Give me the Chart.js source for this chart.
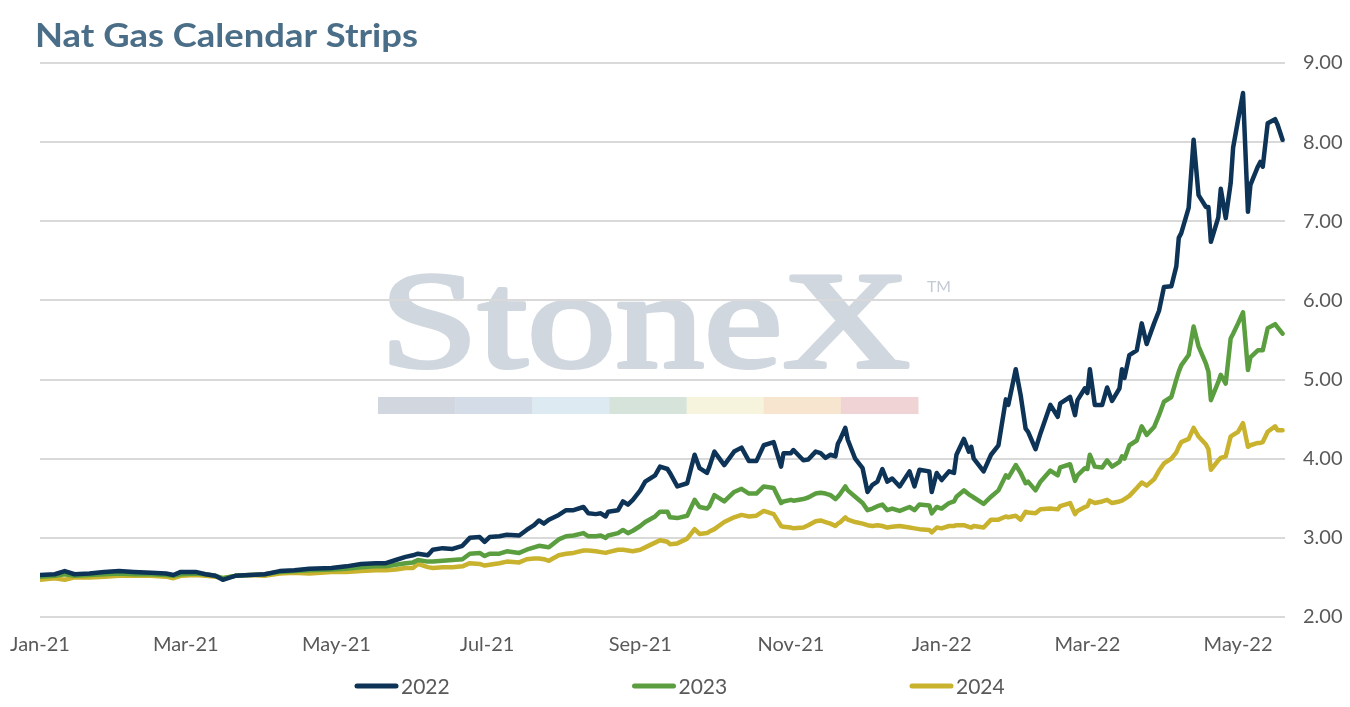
<!DOCTYPE html>
<html>
<head>
<meta charset="utf-8">
<script src="https://cdn.jsdelivr.net/npm/chart.js@4.4.1/dist/chart.umd.min.js"></script>
<style>
  html, body { margin: 0; padding: 0; background: #fff; }
  #wrap { width: 1350px; height: 707px; position: relative; }
</style>
</head>
<body>
<div id="wrap"><canvas id="myChart"></canvas></div>
<script>
// trading days, counted as days since 1 Jan 2021
const days = [
  0, 6, 10, 14, 20, 26, 32, 38, 45, 51, 54, 57, 63, 67, 71, 74, 79, 85, 91, 97,
  103, 109, 118, 124, 130, 136, 140, 144, 148, 151, 153, 157, 159, 163, 167, 171, 174, 178, 180, 182,
  186, 189, 194, 197, 200, 202, 204, 206, 210, 213, 216, 220, 222, 225, 227, 229, 230, 234, 236, 238,
  240, 243, 245, 249, 251, 254, 255, 258, 262, 265, 267, 270, 271, 273, 277, 281, 284, 287, 290, 293,
  297, 300, 301, 304, 305, 309, 311, 314, 316, 318, 320, 322, 323, 324, 326, 327, 330, 333, 335, 337,
  339, 341, 343, 345, 348, 352, 354, 356, 360, 361, 363, 365, 368, 370, 371, 374, 376, 377, 378, 382,
  385, 388, 391, 392, 395, 397, 399, 400, 403, 405, 409, 412, 413, 417, 419, 420, 423, 424, 425, 427,
  430, 432, 434, 437, 438, 439, 441, 444, 446, 448, 451, 453, 455, 458, 460, 461, 462, 465, 467, 469,
  472, 473, 474, 477, 478, 480, 482, 483, 485, 487, 489, 490, 493, 494, 495, 497, 500, 501, 503
]

const strip2022 = [
  2.53, 2.54, 2.58, 2.54, 2.55, 2.57, 2.58, 2.57, 2.56, 2.55, 2.53, 2.57, 2.57, 2.54, 2.52, 2.47, 2.52, 2.53, 2.54, 2.58,
  2.59, 2.61, 2.62, 2.64, 2.67, 2.68, 2.68, 2.72, 2.76, 2.78, 2.80, 2.78, 2.85, 2.87, 2.86, 2.90, 3.00, 3.01, 2.95, 3.01,
  3.02, 3.04, 3.03, 3.10, 3.16, 3.22, 3.18, 3.23, 3.29, 3.35, 3.35, 3.39, 3.31, 3.30, 3.31, 3.27, 3.33, 3.35, 3.46, 3.42,
  3.48, 3.60, 3.71, 3.79, 3.90, 3.87, 3.82, 3.65, 3.69, 4.05, 3.88, 3.82, 3.90, 4.09, 3.92, 4.09, 4.14, 3.97, 3.97, 4.17,
  4.21, 3.90, 4.07, 4.07, 4.11, 3.98, 3.99, 4.09, 4.07, 4.01, 4.05, 4.03, 4.19, 4.25, 4.39, 4.24, 4.00, 3.88, 3.58, 3.67,
  3.71, 3.87, 3.71, 3.75, 3.65, 3.84, 3.65, 3.86, 3.84, 3.58, 3.82, 3.73, 3.84, 3.82, 4.05, 4.25, 4.09, 4.15, 4.00, 3.84,
  4.05, 4.17, 4.75, 4.68, 5.13, 4.80, 4.38, 4.34, 4.12, 4.32, 4.68, 4.53, 4.70, 4.78, 4.55, 4.74, 4.89, 4.83, 5.13, 4.68,
  4.68, 4.90, 4.73, 4.89, 5.13, 5.02, 5.31, 5.37, 5.71, 5.45, 5.71, 5.87, 6.17, 6.18, 6.43, 6.79, 6.85, 7.17, 8.03, 7.33,
  7.18, 7.18, 6.74, 7.05, 7.41, 7.04, 7.48, 7.93, 8.28, 8.62, 7.12, 7.46, 7.69, 7.75, 7.69, 8.24, 8.29, 8.22, 8.03
]

const strip2023 = [
  2.51, 2.52, 2.54, 2.52, 2.53, 2.54, 2.55, 2.54, 2.54, 2.53, 2.52, 2.54, 2.55, 2.54, 2.52, 2.49, 2.52, 2.53, 2.54, 2.57,
  2.58, 2.59, 2.60, 2.61, 2.63, 2.64, 2.64, 2.66, 2.68, 2.69, 2.72, 2.70, 2.70, 2.71, 2.72, 2.73, 2.80, 2.81, 2.77, 2.80,
  2.80, 2.83, 2.81, 2.85, 2.88, 2.90, 2.89, 2.88, 2.98, 3.02, 3.03, 3.06, 3.02, 3.02, 3.03, 3.00, 3.03, 3.06, 3.10, 3.06,
  3.09, 3.15, 3.20, 3.27, 3.33, 3.33, 3.26, 3.25, 3.28, 3.48, 3.39, 3.37, 3.40, 3.54, 3.46, 3.58, 3.62, 3.56, 3.56, 3.65,
  3.63, 3.44, 3.46, 3.48, 3.47, 3.49, 3.51, 3.56, 3.57, 3.56, 3.54, 3.49, 3.52, 3.56, 3.65, 3.60, 3.52, 3.44, 3.35, 3.37,
  3.40, 3.42, 3.35, 3.37, 3.34, 3.39, 3.35, 3.42, 3.41, 3.31, 3.39, 3.37, 3.44, 3.46, 3.52, 3.60, 3.55, 3.53, 3.51, 3.43,
  3.52, 3.60, 3.79, 3.76, 3.92, 3.82, 3.69, 3.71, 3.60, 3.71, 3.85, 3.79, 3.89, 3.93, 3.72, 3.79, 3.88, 3.87, 4.05, 3.90,
  3.89, 3.98, 3.90, 3.96, 4.03, 4.00, 4.17, 4.23, 4.41, 4.30, 4.40, 4.55, 4.72, 4.78, 5.00, 5.10, 5.18, 5.31, 5.67, 5.42,
  5.20, 5.10, 4.74, 4.97, 5.06, 4.95, 5.52, 5.58, 5.71, 5.85, 5.12, 5.28, 5.37, 5.37, 5.37, 5.65, 5.70, 5.66, 5.58
]

const strip2024 = [
  2.47, 2.49, 2.47, 2.50, 2.50, 2.51, 2.52, 2.52, 2.52, 2.51, 2.49, 2.52, 2.53, 2.52, 2.51, 2.49, 2.52, 2.53, 2.52, 2.55,
  2.56, 2.55, 2.57, 2.57, 2.58, 2.59, 2.59, 2.60, 2.62, 2.62, 2.67, 2.63, 2.62, 2.63, 2.63, 2.64, 2.68, 2.67, 2.65, 2.66,
  2.68, 2.70, 2.69, 2.73, 2.74, 2.74, 2.73, 2.71, 2.78, 2.80, 2.81, 2.84, 2.84, 2.83, 2.82, 2.81, 2.82, 2.85, 2.85, 2.84,
  2.83, 2.85, 2.88, 2.94, 2.97, 2.95, 2.92, 2.93, 2.99, 3.11, 3.05, 3.06, 3.08, 3.11, 3.20, 3.26, 3.29, 3.27, 3.28, 3.34,
  3.30, 3.15, 3.14, 3.13, 3.12, 3.13, 3.16, 3.21, 3.22, 3.20, 3.18, 3.15, 3.18, 3.20, 3.26, 3.23, 3.20, 3.18, 3.16, 3.15,
  3.16, 3.15, 3.13, 3.14, 3.15, 3.13, 3.12, 3.11, 3.10, 3.07, 3.13, 3.12, 3.15, 3.15, 3.16, 3.16, 3.14, 3.13, 3.15, 3.13,
  3.23, 3.23, 3.27, 3.26, 3.28, 3.23, 3.33, 3.32, 3.31, 3.36, 3.37, 3.36, 3.40, 3.44, 3.30, 3.34, 3.39, 3.40, 3.47, 3.44,
  3.46, 3.48, 3.44, 3.46, 3.47, 3.49, 3.53, 3.63, 3.70, 3.66, 3.74, 3.85, 3.94, 4.00, 4.08, 4.15, 4.21, 4.25, 4.39, 4.28,
  4.18, 4.12, 3.86, 3.98, 4.01, 4.03, 4.28, 4.30, 4.34, 4.45, 4.15, 4.17, 4.20, 4.20, 4.21, 4.34, 4.41, 4.36, 4.36
]

const tickDays = [0, 59, 120, 181, 243, 304, 365, 424, 485]
const tickLabels = ['Jan-21', 'Mar-21', 'May-21', 'Jul-21', 'Sep-21', 'Nov-21', 'Jan-22', 'Mar-22', 'May-22']
const seriesNames = ['2022', '2023', '2024']
const seriesColors = ['#0d3357', '#5b9e3f', '#c8b22e']
const barColors = ['#d2d7df', '#d4dce7', '#deeaf2', '#d6e3da', '#f6f4dc', '#f7e5cf', '#f0d4d5']

function toPoints(values) {
  return values.map(function(v, i) { return { x: days[i], y: v } })
}

// draw text squeezed/stretched to a given width (optionally thickened with a stroke)
function fitText(ctx, text, x, y, width, stroke) {
  let w = ctx.measureText(text).width
  ctx.save()
  ctx.translate(x, y)
  ctx.scale(width / w, 1)
  ctx.fillText(text, 0, 0)
  if (stroke) {
    ctx.strokeStyle = ctx.fillStyle
    ctx.lineWidth = stroke
    ctx.lineJoin = 'round'
    ctx.strokeText(text, 0, 0)
  }
  ctx.restore()
}

// StoneX logo behind the grid
const watermark = {
  id: 'watermark',
  beforeDraw(chart) {
    const ctx = chart.ctx
    ctx.save()
    ctx.fillStyle = '#d0d7df'
    ctx.font = '138px "Liberation Serif"'
    ctx.textBaseline = 'alphabetic'
    fitText(ctx, 'StoneX', 380, 367, 530, 4)

    ctx.fillStyle = '#c2cad4'
    ctx.font = '15px Lato'
    fitText(ctx, 'TM', 927, 292, 24)

    let segW = (918 - 378) / barColors.length
    barColors.forEach(function(c, i) {
      ctx.fillStyle = c
      ctx.fillRect(378 + i * segW, 397, segW + 0.5, 17)
    })
    ctx.restore()
  }
}

// title + legend drawn on top
const decorations = {
  id: 'decorations',
  afterDraw(chart) {
    const ctx = chart.ctx
    ctx.save()
    ctx.fillStyle = '#4b6e88'
    ctx.font = 'bold 33px Lato'
    ctx.textBaseline = 'alphabetic'
    fitText(ctx, 'Nat Gas Calendar Strips', 35, 47, 383)

    ctx.font = '21px Lato'
    ctx.textBaseline = 'middle'
    ctx.lineCap = 'round'
    ctx.lineWidth = 5
    seriesNames.forEach(function(name, i) {
      let x0 = 355 + i * 277.5
      ctx.strokeStyle = seriesColors[i]
      ctx.beginPath()
      ctx.moveTo(x0 + 2, 686)
      ctx.lineTo(x0 + 41, 686)
      ctx.stroke()
      ctx.fillStyle = '#595959'
      ctx.fillText(name, x0 + 46, 687)
    })
    ctx.restore()
  }
}

Chart.defaults.font.family = 'Lato'
Chart.defaults.color = '#595959'

const ctx = document.getElementById('myChart').getContext('2d')
const chart = new Chart(ctx, {
  type: 'line',
  data: {
    datasets: seriesNames.map(function(name, i) {
      return {
        label: name,
        data: toPoints([strip2022, strip2023, strip2024][i]),
        borderColor: seriesColors[i],
        backgroundColor: seriesColors[i],
        borderWidth: 4.5,
        pointRadius: 0,
        tension: 0,
        borderJoinStyle: 'round',
        borderCapStyle: 'round'
      }
    })
  },
  options: {
    responsive: true,
    maintainAspectRatio: false,
    animation: false,
    layout: { padding: { left: 40, right: 0, top: 63, bottom: 0 } },
    plugins: {
      legend: { display: false },
      title: { display: false },
      tooltip: { enabled: false }
    },
    scales: {
      x: {
        type: 'linear',
        min: 0,
        max: 504,
        grid: { display: false, drawTicks: false },
        border: { display: false },
        afterBuildTicks: function(scale) {
          scale.ticks = tickDays.map(function(d) { return { value: d } })
        },
        afterFit: function(scale) {
          scale.height = 90
          scale.paddingLeft = 0
          scale.paddingRight = 0
        },
        ticks: {
          autoSkip: false,
          maxRotation: 0,
          padding: 16,
          font: { size: 20 },
          callback: function(value) { return tickLabels[tickDays.indexOf(value)] }
        }
      },
      y: {
        position: 'right',
        min: 2,
        max: 9,
        grid: { color: '#d9d9d9', lineWidth: 2, drawTicks: false },
        border: { display: false },
        afterFit: function(scale) { scale.width = 65 },
        ticks: {
          stepSize: 1,
          padding: 18,
          font: { size: 20 },
          callback: function(value) { return value.toFixed(2) }
        }
      }
    }
  },
  plugins: [watermark, decorations]
})
</script>
</body>
</html>
